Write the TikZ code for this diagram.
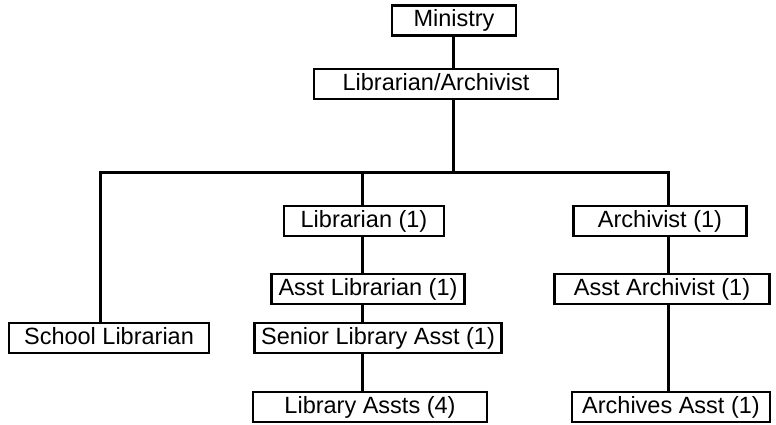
\documentclass[tikz,border=0pt]{standalone}
\usepackage{fontspec}
\setmainfont{Liberation Sans}
\tikzset{
   post/.style={draw, line width=2.8pt, inner sep=0pt, minimum height=30pt,
      text height=16pt, text depth=4pt, font=\fontsize{23.5}{26}\selectfont},
   link/.style={line width=3pt},
}
\begin{document}
\begin{tikzpicture}[x=1pt, y=-1pt]
   \useasboundingbox (0, 0) rectangle (776, 424);
   % boxes
   \node[post, minimum width=124pt] (ministry) at (454, 20.5) {Ministry};
   \node[post, minimum width=244pt] (libarch) at (436, 84) {Librarian/Archivist};
   \node[post, minimum width=160pt] (librarian) at (364, 221) {Librarian (1)};
   \node[post, minimum width=173pt] (archivist) at (660, 221) {Archivist (1)};
   \node[post, minimum width=193pt] (asstlib) at (368, 289) {Asst Librarian (1)};
   \node[post, minimum width=215pt] (asstarch) at (662, 289) {Asst Archivist (1)};
   \node[post, minimum width=200pt] (school) at (109, 338) {School Librarian};
   \node[post, minimum width=247pt] (senior) at (378, 338) {Senior Library Asst (1)};
   \node[post, minimum width=234pt] (libassts) at (370, 407) {Library Assts (4)};
   \node[post, minimum width=198pt] (archasst) at (671, 407) {Archives Asst (1)};
   % columns and the bar
   \coordinate (busL) at (100, 172);
   \coordinate (busR) at (668, 172);
   \coordinate (colT) at (453, 0);
   \coordinate (colL) at (362, 0);
   \draw[link] (ministry.south -| colT) -- (libarch.north -| colT);
   \draw[link] (libarch.south -| colT) -- (colT |- busL);
   \draw[link] (school.north -| busL) -- (busL) -- (busR) -- (archivist.north -| busR);
   \draw[link] (librarian.north -| colL) -- (colL |- busL);
   \draw[link] (librarian.south -| colL) -- (asstlib.north -| colL);
   \draw[link] (asstlib.south -| colL) -- (senior.north -| colL);
   \draw[link] (senior.south -| colL) -- (libassts.north -| colL);
   \draw[link] (archivist.south -| busR) -- (asstarch.north -| busR);
   \draw[link] (asstarch.south -| busR) -- (archasst.north -| busR);
\end{tikzpicture}
\end{document}
